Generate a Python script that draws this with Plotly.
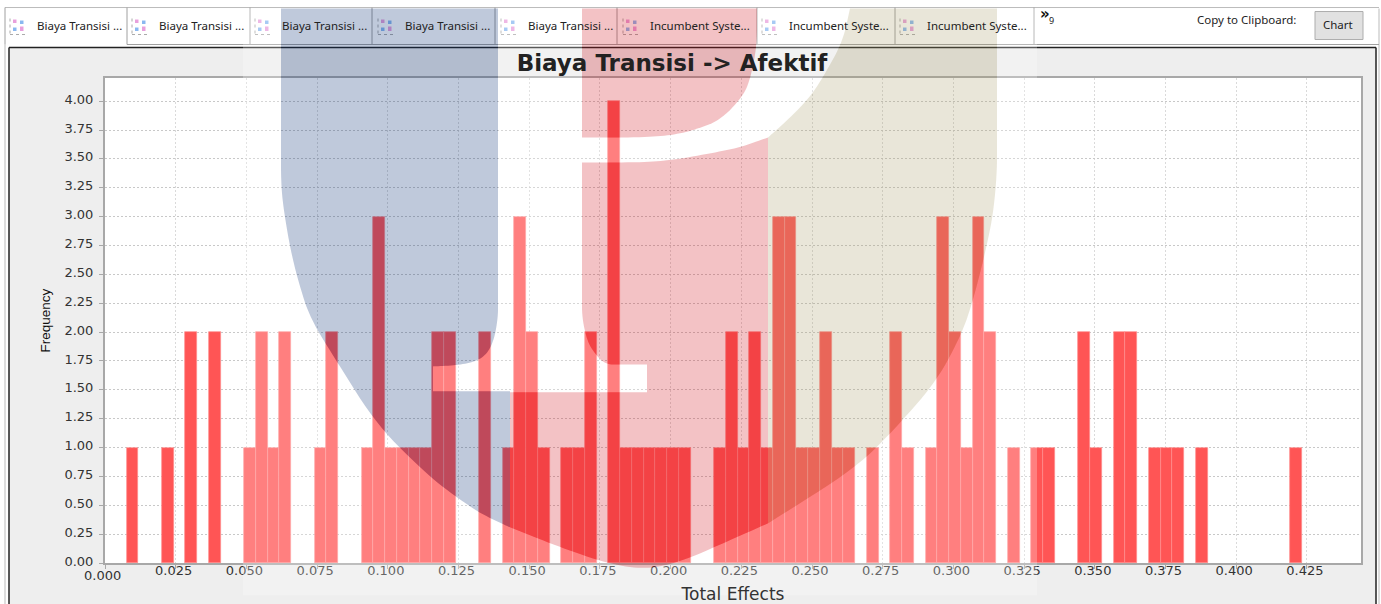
import plotly.graph_objects as go

W, H = 1381, 604
PL, PR, PT, PB = 105.0, 1361.0, 77.5, 562.7

# ---- chart data ----
total_effects = [
    0.00974, 0.02220, 0.03051, 0.03882, 0.05129, 0.05544, 0.05960, 0.06375,
    0.07622, 0.08037, 0.09284, 0.09699, 0.10115, 0.10530, 0.10946, 0.11361,
    0.11777, 0.12192, 0.13439, 0.14270, 0.14685, 0.15101, 0.15516, 0.16347,
    0.16763, 0.17178, 0.18009, 0.18425, 0.18840, 0.19256, 0.19671, 0.20087,
    0.20502, 0.21749, 0.22164, 0.22580, 0.22995, 0.23411, 0.23826, 0.24242,
    0.24657, 0.25073, 0.25488, 0.25904, 0.26319, 0.27150, 0.27981, 0.28397,
    0.29228, 0.29643, 0.30059, 0.30474, 0.30890, 0.31305, 0.32136, 0.32967,
    0.33383, 0.34629, 0.35045, 0.35876, 0.36291, 0.37122, 0.37538, 0.37953,
    0.38784, 0.42108,
]
frequency = [
    1, 1, 2, 2, 1, 2, 1, 2,
    1, 2, 1, 3, 1, 1, 1, 1,
    2, 2, 2, 1, 3, 2, 1, 1,
    1, 2, 4, 1, 1, 1, 1, 1,
    1, 1, 2, 1, 2, 1, 3, 3,
    1, 1, 2, 1, 1, 1, 2, 1,
    1, 3, 2, 1, 3, 2, 1, 1,
    1, 2, 1, 2, 2, 1, 1, 1,
    1, 1,
]
x_ticks = ["0.000", "0.025", "0.050", "0.075", "0.100", "0.125", "0.150", "0.175", "0.200",
           "0.225", "0.250", "0.275", "0.300", "0.325", "0.350", "0.375", "0.400", "0.425"]
y_ticks = ["0.00", "0.25", "0.50", "0.75", "1.00", "1.25", "1.50", "1.75", "2.00",
           "2.25", "2.50", "2.75", "3.00", "3.25", "3.50", "3.75", "4.00"]
tab_labels = ["Biaya Transisi ...", "Biaya Transisi ...", "Biaya Transisi ...", "Biaya Transisi ...",
              "Biaya Transisi ...", "Incumbent Syste...", "Incumbent Syste...", "Incumbent Syste..."]
chart_title = "Biaya Transisi -> Afektif"


def X(p):
    return (p - PL) / (PR - PL)


def Y(p):
    return (PB - p) / (PB - PT)


def sub(points):
    return "M" + " L".join(f"{X(a):.5f},{Y(b):.5f}" for a, b in points) + " Z"


def smooth(points, rounds=3):
    """Corner cutting so traced outlines of the watermark read as curves."""
    pts = list(points)
    for _ in range(rounds):
        out = [pts[0]]
        for (a, b), (c, d) in zip(pts, pts[1:]):
            out.append((0.75 * a + 0.25 * c, 0.75 * b + 0.25 * d))
            out.append((0.25 * a + 0.75 * c, 0.25 * b + 0.75 * d))
        out.append(pts[-1])
        pts = out
    return pts


def rect(x0, y0, x1, y1, fill=None, line=None, lw=1, layer="below"):
    return dict(type="rect", xref="paper", yref="paper", x0=X(x0), x1=X(x1), y0=Y(y0), y1=Y(y1),
                fillcolor=fill if fill else "rgba(0,0,0,0)",
                line=dict(color=line if line else "rgba(0,0,0,0)", width=lw if line else 0), layer=layer)


def seg(x0, y0, x1, y1, color, lw=1, layer="below", dash="solid"):
    return dict(type="line", xref="paper", yref="paper", x0=X(x0), x1=X(x1), y0=Y(y0), y1=Y(y1),
                line=dict(color=color, width=lw, dash=dash), layer=layer)


def note(px, py, text, size=12, color="#222222", family="Noto Sans", xa="left", angle=0, weight="normal"):
    return dict(xref="paper", yref="paper", x=X(px - 2), y=Y(py - 1), text=text, showarrow=False, xanchor=xa,
                yanchor="middle", textangle=angle, font=dict(size=size, color=color, family=family, weight=weight))


shapes = []
annotations = []

# grey chart panel with a hole for the plot area
shapes.append(dict(type="path", xref="paper", yref="paper", layer="below", fillcolor="#EEEEEE", line=dict(width=0),
                   path=sub([(9, 47), (1376, 47), (1376, 604), (9, 604)]) + " " +
                        sub([(PL, PT), (PR, PT), (PR, PB), (PL, PB)])))
shapes.append(seg(9, 47, 1376, 47, "#222222", 1.5))
shapes.append(seg(9, 47, 9, 604, "#222222", 1.5))
shapes.append(seg(1376, 47, 1376, 604, "#222222", 1.5))
shapes.append(seg(5, 44, 5, 604, "#BBBBBB", 1))
shapes.append(seg(1379, 8, 1379, 604, "#BBBBBB", 1))

# tab strip
tab_edges = [5, 127, 250, 372, 495, 617, 757, 895, 1034]
text_starts = [37, 159, 282, 405, 528, 650, 789, 927]
shapes.append(seg(5, 7, 1379, 7, "#BBBBBB", 1))
shapes.append(seg(127, 44, 1379, 44, "#A0A0A0", 1))
for e in tab_edges:
    shapes.append(seg(e, 7, e, 44, "#A0A0A0", 1))
for label, start in zip(tab_labels, text_starts):
    annotations.append(note(start, 26, label, size=11.5))
    ox = start - 27
    shapes.append(seg(ox, 18, ox, 34, "#AAAAAA", 1, dash="dot"))
    shapes.append(seg(ox, 34, ox + 16, 34, "#AAAAAA", 1, dash="dot"))
    shapes.append(rect(ox + 3, 19, ox + 6.5, 22.5, fill="#E8A0DC"))
    shapes.append(rect(ox + 10, 20, ox + 13.5, 23.5, fill="#8AB8F0"))
    shapes.append(rect(ox + 3, 27, ox + 6.5, 30.5, fill="#8AB8F0"))
    shapes.append(rect(ox + 10, 26, ox + 13.5, 30.5, fill="#E8A0DC"))

annotations.append(note(1040, 14, "»", size=15, color="#111111", family="DejaVu Sans", weight="bold"))
annotations.append(note(1049, 21, "9", size=9))
annotations.append(note(1197, 20, "Copy to Clipboard:", size=11.5))
shapes.append(rect(1315, 11, 1363, 39, fill="#E1E1E1", line="#ADADAD"))
annotations.append(note(1340, 25, "Chart", size=11.5, xa="center"))
annotations.append(note(104, 576, x_ticks[0], size=13, color="#333333", family="DejaVu Sans", xa="center"))

# translucent watermark drawn over everything
outer = smooth([(281, 150), (281, 180), (283, 205), (290, 247), (298, 280), (310, 318), (338, 363), (377, 425),
                (430, 477), (457, 497), (480, 513), (510, 527)])
inner = smooth([(498, 300), (498, 317), (494, 340), (486, 355), (473, 362), (455, 365), (433, 366)])
blue = [(281, 8), (498, 8)] + inner + [(433, 391), (510, 391)] + outer[::-1]
red_top = smooth([(757, 8), (757, 45), (750, 80), (742, 97), (720, 120), (693, 130), (670, 135), (640, 137), (582, 137)])
red_upper = [(582, 8)] + red_top
red_edge = smooth([(582, 162), (640, 162), (670, 160), (710, 153), (740, 147), (768, 137)])
bottom = smooth([(768, 523), (714, 547), (691, 557), (660, 567), (633, 568), (597, 560), (550, 543), (510, 527)])
red_notch = smooth([(620, 364), (605, 364), (594, 352), (587, 340), (582, 317), (582, 295)])
red_lower = red_edge + bottom + [(510, 392), (647, 392), (647, 364)] + red_notch
khaki_top = smooth([(850, 8), (843, 40), (827, 70), (810, 97), (787, 120), (768, 137)])
khaki_side = smooth([(768, 523), (857, 467), (900, 423), (937, 380), (962, 333), (973, 300), (985, 253), (993, 215),
                     (997, 173), (997, 140)])
khaki = khaki_top + khaki_side + [(997, 8)]
veil = [(243, 8), (1037, 8), (1037, 595), (243, 595)]

logo = [(blue, "rgb(0,38,110)"), (red_upper, "rgb(209,13,24)"), (red_lower, "rgb(209,13,24)"),
        (khaki, "rgb(166,155,105)")]
shapes.append(dict(type="path", xref="paper", yref="paper", layer="above", fillcolor="white", opacity=0.25,
                   line=dict(width=0),
                   path=" ".join([sub(veil)] + [sub(p) for p, _ in logo])))
for pts, col in logo:
    shapes.append(dict(type="path", xref="paper", yref="paper", layer="above", fillcolor=col, opacity=0.25,
                       line=dict(width=0), path=sub(pts)))

fig = go.Figure(go.Bar(x=total_effects, y=frequency, width=0.004155,
                       marker=dict(color="#FF5555", line=dict(color="#FF8C8C", width=0.7))))

axis_common = dict(showline=True, mirror=True, linecolor="#A8A8A8", linewidth=2, zeroline=False,
                   ticks="outside", ticklen=4, tickcolor="#A8A8A8", automargin=False, griddash="2px,2px",
                   tickmode="array", tickfont=dict(family="DejaVu Sans", size=13, color="#333333"))

fig.update_layout(
    width=W, height=H, autosize=False,
    margin=dict(l=PL, r=W - PR, t=PT, b=H - PB, pad=0),
    paper_bgcolor="white", plot_bgcolor="white", showlegend=False, bargap=0,
    title=dict(text=chart_title, x=672 / W, y=1 - 63 / H, xref="container", yref="container",
               xanchor="center", yanchor="middle",
               font=dict(family="DejaVu Sans", size=23, color="#222222", weight="bold")),
    xaxis=dict(range=[0, (PR - PL) / 2828], tickvals=[float(t) for t in x_ticks],
               ticktext=[""] + x_ticks[1:], ticklabelstandoff=-10, ticklabelshift=-2,
               showgrid=True, gridcolor="#DADADA", gridwidth=1,
               title=dict(text="Total Effects", standoff=16, font=dict(family="DejaVu Sans", size=17, color="#333333")),
               **axis_common),
    yaxis=dict(range=[0, (PB - PT) / 115.5], tickvals=[float(t) for t in y_ticks], ticktext=y_ticks,
               ticklabelstandoff=3, ticklabelshift=-2,
               showgrid=True, gridcolor="#C8C8C8", gridwidth=1,
               title=dict(text="Frequency", standoff=11,
                          font=dict(family="Liberation Sans", size=13.5, color="#111111")),
               **axis_common),
    shapes=shapes, annotations=annotations,
)

fig.write_html("out.html", config=dict(displayModeBar=False),
               post_script="document.body.style.margin='0';document.body.style.overflow='hidden';")
